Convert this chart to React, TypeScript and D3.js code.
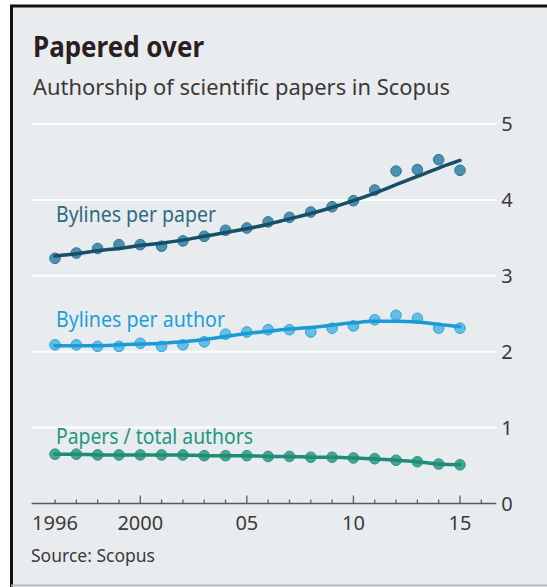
import React from 'react'
import * as d3 from 'd3'

const years = [1996, 1997, 1998, 1999, 2000, 2001, 2002, 2003, 2004, 2005, 2006, 2007, 2008, 2009, 2010, 2011, 2012, 2013, 2014, 2015]

const bylinesPerPaper = [3.23, 3.3, 3.36, 3.41, 3.41, 3.39, 3.46, 3.52, 3.6, 3.63, 3.71, 3.77, 3.84, 3.91, 3.99, 4.13, 4.38, 4.4, 4.53, 4.39]
const bylinesPerPaperTrend = [3.26, 3.29, 3.33, 3.36, 3.4, 3.43, 3.47, 3.52, 3.57, 3.62, 3.68, 3.75, 3.82, 3.9, 3.99, 4.09, 4.2, 4.31, 4.42, 4.52]

const bylinesPerAuthor = [2.09, 2.09, 2.07, 2.07, 2.11, 2.07, 2.09, 2.13, 2.23, 2.26, 2.29, 2.29, 2.26, 2.31, 2.34, 2.42, 2.48, 2.44, 2.31, 2.31]
const bylinesPerAuthorTrend = [2.08, 2.08, 2.08, 2.09, 2.1, 2.11, 2.13, 2.16, 2.2, 2.24, 2.27, 2.3, 2.32, 2.35, 2.38, 2.4, 2.4, 2.39, 2.36, 2.33]

const papersPerAuthor = [0.65, 0.65, 0.64, 0.64, 0.64, 0.64, 0.64, 0.63, 0.63, 0.63, 0.62, 0.62, 0.61, 0.61, 0.6, 0.59, 0.57, 0.55, 0.52, 0.51]

const yTicks = [0, 1, 2, 3, 4, 5]
const minorTicks = d3.range(1996, 2017)
const majorTicks = [2000, 2005, 2010, 2015]
const xLabels = [
  { year: 1996, label: '1996' },
  { year: 2000, label: '2000' },
  { year: 2005, label: '05' },
  { year: 2010, label: '10' },
  { year: 2015, label: '15' },
]

const series = [
  { name: 'Bylines per paper', values: bylinesPerPaper, trend: bylinesPerPaperTrend, dot: '#3f8db0', dotStroke: '#2a6c89', line: '#174f68', text: '#2f6a84' },
  { name: 'Bylines per author', values: bylinesPerAuthor, trend: bylinesPerAuthorTrend, dot: '#5cbde6', dotStroke: '#2a9fd4', line: '#1b9ad6', text: '#1e9fd8' },
  { name: 'Papers / total authors', values: papersPerAuthor, trend: papersPerAuthor, dot: '#3aa58e', dotStroke: '#23907a', line: '#1f8c77', text: '#23967f' },
]

const font = '"Noto Sans", "Open Sans", sans-serif'

const App = () => {
  const W = 547
  const H = 587

  const x = d3.scaleLinear().domain([1996, 2015]).range([55, 460])
  const y = d3.scaleLinear().domain([0, 5]).range([503.5, 124])
  const gridX0 = x(1994.9)
  const gridX1 = x(2016.7)

  const trendLine = d3
    .line<number>()
    .x((_, i) => x(years[i]))
    .y((d) => y(d))
    .curve(d3.curveMonotoneX)

  // series labels: [x, baseline, width]
  const labelPos = [
    [56, 222, 160],
    [56, 327, 169],
    [56, 444, 197],
  ]

  return (
    <svg width={W} height={H} style={{ position: 'absolute', left: 0, top: 0, display: 'block' }}>
      <rect x={0} y={0} width={W} height={H} fill="#ffffff" />
      <rect x={11} y={6} width={W - 11} height={579} fill="#e9ecef" />
      <line x1={11.5} y1={5} x2={11.5} y2={587} stroke="#111" strokeWidth={3} />
      <line x1={10} y1={6} x2={W} y2={6} stroke="#111" strokeWidth={3} />
      <line x1={11} y1={585.5} x2={W} y2={585.5} stroke="#b5b8bb" strokeWidth={2} />

      <text x={33} y={57} fontFamily={font} fontWeight="bold" fontSize={28} fill="#2a1f1f" textLength={171} lengthAdjust="spacingAndGlyphs">
        Papered over
      </text>
      <text x={33} y={95} fontFamily={font} fontSize={21} fill="#3b3838" textLength={417} lengthAdjust="spacingAndGlyphs">
        Authorship of scientific papers in Scopus
      </text>

      {yTicks.filter((t) => t > 0).map((t) => (
        <line key={t} x1={gridX0} x2={gridX1} y1={y(t)} y2={y(t)} stroke="#ffffff" strokeWidth={2} />
      ))}
      {yTicks.map((t) => (
        <text key={t} x={507} y={y(t)} dy="0.36em" textAnchor="middle" fontFamily={font} fontSize={20} fill="#3a3a3a">
          {t}
        </text>
      ))}

      <line x1={gridX0} x2={gridX1} y1={y(0)} y2={y(0)} stroke="#5a5a5a" strokeWidth={1.5} />
      {minorTicks.map((t) => (
        <line
          key={t}
          x1={x(t)}
          x2={x(t)}
          y1={y(0)}
          y2={y(0) - (majorTicks.includes(t) ? 8 : 4)}
          stroke="#5a5a5a"
          strokeWidth={1.3}
        />
      ))}
      {xLabels.map((d) => (
        <text key={d.year} x={x(d.year)} y={530} textAnchor="middle" fontFamily={font} fontSize={20} fill="#3a3a3a">
          {d.label}
        </text>
      ))}

      {series.map((s) => (
        <g key={s.name}>
          {s.values.map((v, i) => (
            <circle key={i} cx={x(years[i])} cy={y(v)} r={5.3} fill={s.dot} stroke={s.dotStroke} strokeWidth={1} opacity={0.95} />
          ))}
          <path d={trendLine(s.trend) || ''} fill="none" stroke={s.line} strokeWidth={3.5} strokeLinecap="round" />
        </g>
      ))}

      {series.map((s, i) => (
        <text
          key={s.name}
          x={labelPos[i][0]}
          y={labelPos[i][1]}
          fontFamily={font}
          fontSize={21}
          fill={s.text}
          textLength={labelPos[i][2]}
          lengthAdjust="spacingAndGlyphs"
        >
          {s.name}
        </text>
      ))}

      <text x={31} y={562} fontFamily={font} fontSize={18} fill="#3a3a3a" textLength={124} lengthAdjust="spacingAndGlyphs">
        Source: Scopus
      </text>
    </svg>
  )
}

export default App
